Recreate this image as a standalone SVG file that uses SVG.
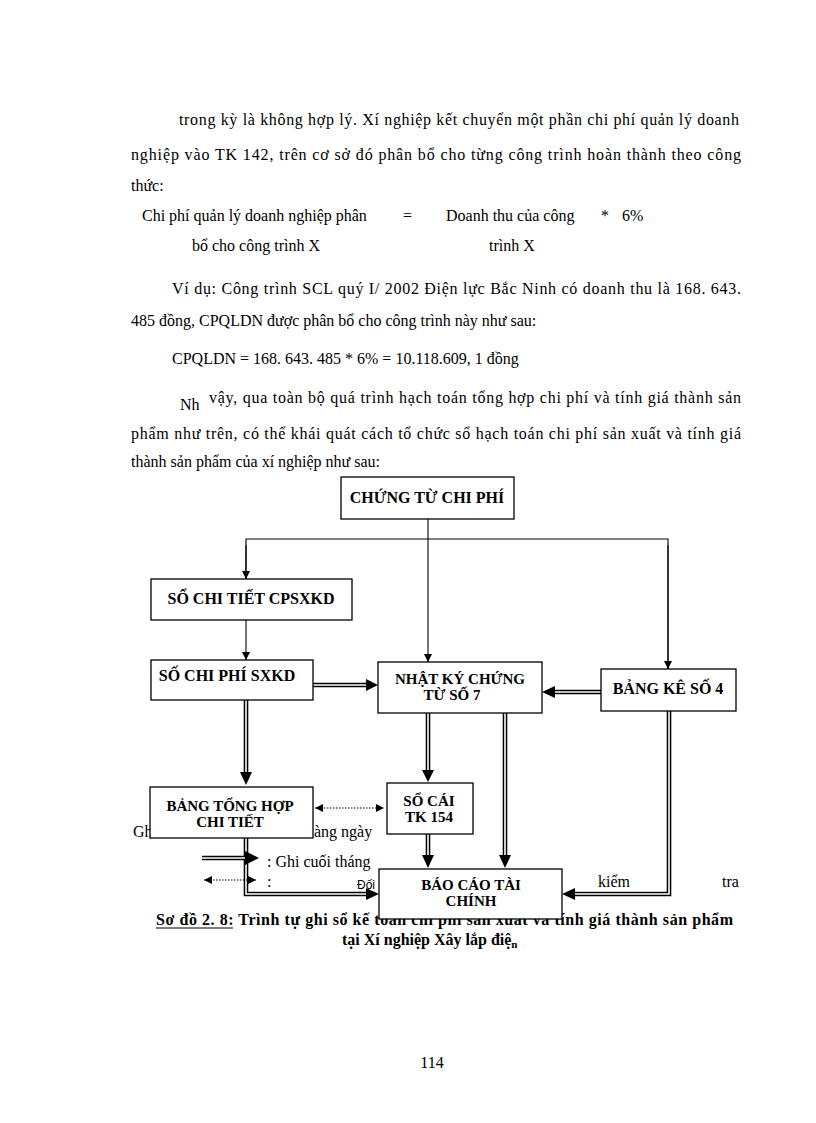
<svg xmlns="http://www.w3.org/2000/svg" width="816" height="1123" viewBox="0 0 816 1123">
<style>
.t{font-family:"Liberation Serif","Times New Roman",serif;font-size:16px;fill:#000}
.s{font-family:"Liberation Sans",Arial,sans-serif;font-size:12px;fill:#000}
.cap{font-family:"Liberation Serif","Times New Roman",serif;font-size:16px;font-weight:bold;fill:#000}
.b{font-family:"Liberation Serif","Times New Roman",serif;font-size:16px;font-weight:bold;text-anchor:middle;fill:#000}
.b2{font-family:"Liberation Serif","Times New Roman",serif;font-size:15px;font-weight:bold;text-anchor:middle;fill:#000}
.box{fill:#fff;stroke:#000;stroke-width:1.3}
.ln{fill:none;stroke:#000;stroke-width:1.1}
.dk{fill:none;stroke:#000;stroke-width:4.6;stroke-linejoin:miter}
.wh{fill:none;stroke:#fff;stroke-width:1.6;stroke-linejoin:miter}
.dot{fill:none;stroke:#000;stroke-width:1.1;stroke-dasharray:1.5 1.5}
.hd{fill:#000}
</style>
<defs>
<marker id="a" markerWidth="8" markerHeight="8" refX="8" refY="4" orient="auto" markerUnits="userSpaceOnUse"><path d="M0,0 L8,4 L0,8 z" fill="#000"/></marker>
<marker id="ad" markerWidth="8" markerHeight="8" refX="8" refY="4" orient="auto-start-reverse" markerUnits="userSpaceOnUse"><path d="M0,0 L8,4 L0,8 z" fill="#000"/></marker>
</defs>

<rect width="816" height="1123" fill="#fff"/>

<g id="body-text">
<text class="t" x="179" y="125" textLength="560" lengthAdjust="spacing">trong kỳ là không hợp lý. Xí nghiệp kết chuyển một phần chi phí quản lý doanh</text>
<text class="t" x="131" y="160" textLength="610" lengthAdjust="spacing">nghiệp vào TK 142, trên cơ sở đó phân bổ cho từng công trình hoàn thành theo công</text>
<text class="t" x="131" y="191">thức:</text>
<text class="t" x="142" y="221">Chi phí quản lý doanh nghiệp phân</text>
<text class="t" x="403" y="221">=</text>
<text class="t" x="446" y="221">Doanh thu của công</text>
<text class="t" x="601" y="221">*</text>
<text class="t" x="622" y="221">6%</text>
<text class="t" x="192" y="251">bổ cho công trình X</text>
<text class="t" x="489" y="251">trình X</text>
<text class="t" x="172" y="294" textLength="569" lengthAdjust="spacing">Ví dụ: Công trình SCL quý I/ 2002 Điện lực Bắc Ninh có doanh thu là 168. 643.</text>
<text class="t" x="131" y="326">485 đồng, CPQLDN được phân bổ cho công trình này như sau:</text>
<text class="t" x="172" y="364">CPQLDN = 168. 643. 485 * 6% = 10.118.609, 1 đồng</text>
<text class="t" x="180" y="410">Nh</text>
<text class="t" x="209" y="403" textLength="532" lengthAdjust="spacing">vậy, qua toàn bộ quá trình hạch toán tổng hợp chi phí và tính giá thành sản</text>
<text class="t" x="131" y="439" textLength="610" lengthAdjust="spacing">phẩm như trên, có thể khái quát cách tổ chức sổ hạch toán chi phí sản xuất và tính giá</text>
<text class="t" x="131" y="467">thành sản phẩm của xí nghiệp như sau:</text>
</g>

<g id="caption">
<text class="cap" x="156" y="925" textLength="577" lengthAdjust="spacing">Sơ đồ 2. 8: Trình tự ghi sổ kế toán chi phí sản xuất và tính giá thành sản phẩm</text>
<line x1="156" y1="928" x2="233" y2="928" stroke="#000" stroke-width="1.2"/>
<text class="cap" x="342" y="945">tại Xí nghiệp Xây lắp điệ<tspan font-size="11" dy="3">n</tspan></text>
</g>

<g id="legend-text">
<text class="t" x="133" y="837">Gh<tspan>i h</tspan><tspan x="314">àng ngày</tspan></text>
<text class="t" x="267" y="867">: Ghi cuối tháng</text>
<text class="t" x="267" y="887">:</text>
<text class="s" x="357" y="889">Đối</text>
<text class="t" x="598" y="887">kiểm</text>
<text class="t" x="722" y="887">tra</text>
</g>

<g id="connectors">
<path class="ln" d="M428,519 V662" marker-end="url(#a)"/>
<path class="ln" d="M246,579 V539 H668 V669" />
<path class="ln" d="M246,545 V579" marker-end="url(#a)"/>
<path class="ln" d="M668,545 V669" marker-end="url(#a)"/>
<path class="ln" d="M246,620 V660" marker-end="url(#a)"/>

<path class="dk" d="M313,685 H366"/><path class="wh" d="M313,685 H366"/>
<polygon class="hd" points="366,679 378,685 366,691"/>

<path class="dk" d="M601,692 H554"/><path class="wh" d="M601,692 H554"/>
<polygon class="hd" points="555,686 542,692 555,698"/>

<path class="dk" d="M246,700 V772"/><path class="wh" d="M246,700 V772"/>
<polygon class="hd" points="240,772 246,785 252,772"/>

<path class="dk" d="M428,713 V770"/><path class="wh" d="M428,713 V770"/>
<polygon class="hd" points="422,770 428,782 434,770"/>

<path class="dk" d="M505,713 V856"/><path class="wh" d="M505,713 V856"/>
<polygon class="hd" points="499,855 505,868 511,855"/>

<path class="dk" d="M428,834 V856"/><path class="wh" d="M428,834 V856"/>
<polygon class="hd" points="422,855 428,868 434,855"/>

<path class="dk" d="M669,711 V894 H574"/><path class="wh" d="M669,711 V894 H574"/>
<polygon class="hd" points="575,888 562,894 575,900"/>

<path class="dk" d="M246,838 V894 H367"/><path class="wh" d="M246,838 V894 H367"/>
<polygon class="hd" points="366,888 379,894 366,900"/>

<path class="dot" d="M315,808 H384" marker-start="url(#ad)" marker-end="url(#ad)"/>
</g>

<g id="legend-symbols">
<path class="dk" d="M202,858 H246"/>
<path class="wh" d="M202,858 H246"/>
<polygon class="hd" points="245,851 259,858 245,865"/>
<path class="dot" d="M204,880 H256" marker-start="url(#ad)" marker-end="url(#ad)"/>
</g>

<g id="n-chung-tu">
<rect class="box" x="341" y="477" width="173" height="42"/>
<text class="b" x="427" y="503">CHỨNG TỪ CHI PHÍ</text>
</g>
<g id="n-so-chi-tiet">
<rect class="box" x="151" y="579" width="201" height="41"/>
<text class="b" x="251" y="604">SỔ CHI TIẾT CPSXKD</text>
</g>
<g id="n-so-chi-phi">
<rect class="box" x="151" y="660" width="162" height="40"/>
<text class="b" x="227" y="681">SỐ CHI PHÍ SXKD</text>
</g>
<g id="n-nkct">
<rect class="box" x="378" y="662" width="164" height="51"/>
<text class="b2" x="460" y="684">NHẬT KÝ CHỨNG</text>
<text class="b2" x="452" y="700">TỪ  SỐ 7</text>
</g>
<g id="n-bang-ke">
<rect class="box" x="601" y="669" width="135" height="42"/>
<text class="b" x="668" y="694">BẢNG KÊ SỐ 4</text>
</g>
<g id="n-bang-tong-hop">
<rect class="box" x="150" y="787" width="163" height="51"/>
<text class="b2" x="230" y="811">BẢNG TỔNG HỢP</text>
<text class="b2" x="230" y="827">CHI TIẾT</text>
</g>
<g id="n-so-cai">
<rect class="box" x="387" y="783" width="86" height="51"/>
<text class="b2" x="429" y="806">SỔ CÁI</text>
<text class="b2" x="429" y="822">TK 154</text>
</g>
<g id="n-bao-cao">
<rect class="box" x="379" y="869" width="183" height="50"/>
<text class="b2" x="471" y="890">BÁO CÁO TÀI</text>
<text class="b2" x="471" y="906">CHÍNH</text>
</g>

<text class="t" x="432" y="1068" text-anchor="middle" font-size="12">114</text>
</svg>
